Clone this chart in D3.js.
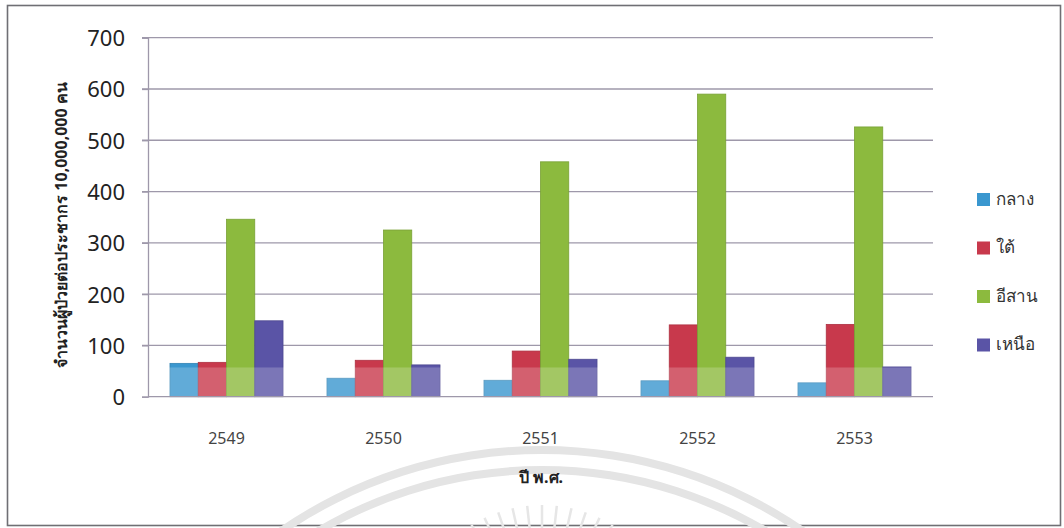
<!DOCTYPE html>
<html lang="th">
<head>
<meta charset="utf-8">
<script src="https://cdn.jsdelivr.net/npm/d3@7"></script>
<style>
  html, body { margin: 0; padding: 0; background: #fff; }
  svg { display: block; }
  text { font-family: "Noto Sans", "DejaVu Sans", sans-serif; }
</style>
</head>
<body>
<svg id="chart" width="1064" height="528"></svg>
<script>
// Patients per 10,000,000 population, by region and Buddhist-era year
const years = ["2549", "2550", "2551", "2552", "2553"];
const regions = ["กลาง", "ใต้", "อีสาน", "เหนือ"];
const central   = [65, 36, 32, 31, 27];
const south     = [67, 71, 89, 140, 141];
const northeast = [346, 325, 458, 590, 526];
const north     = [148, 62, 73, 77, 58];
const yTicks = [0, 100, 200, 300, 400, 500, 600, 700];
const colors = ["#3a97cf", "#c8394c", "#8cba3e", "#5a54a6"];

const seriesValues = [central, south, northeast, north];
const rows = years.map((y, i) => ({ year: y, values: seriesValues.map(s => s[i]) }));

const svg = d3.select("#chart");
const plot = { left: 148, right: 933, top: 37.7, bottom: 396.7 };

// outer frame
svg.append("rect")
  .attr("x", 7.5).attr("y", 5.5)
  .attr("width", 1053).attr("height", 520)
  .attr("fill", "#fff")
  .attr("stroke", "#6f6f74").attr("stroke-width", 1.6);

// faint seal arcs and rays along the lower edge
const seal = svg.append("g");
[460, 440].forEach(r => {
  seal.append("path")
    .attr("d", d3.arc()({ innerRadius: r - 4, outerRadius: r + 4,
      startAngle: -0.62, endAngle: 0.62 }))
    .attr("transform", "translate(542,910)")
    .attr("fill", "#e4e4e4");
});
d3.range(-5, 6).forEach(k => {
  const a = k * 0.11;
  seal.append("line")
    .attr("x1", 542 + Math.sin(a) * 110).attr("y1", 640 - Math.cos(a) * 110)
    .attr("x2", 542 + Math.sin(a) * 135).attr("y2", 640 - Math.cos(a) * 135)
    .attr("stroke", "#e6e6e6").attr("stroke-width", 2.5);
});

const x0 = d3.scaleBand().domain(years)
  .range([plot.left, plot.right]).paddingInner(0.28).paddingOuter(0.14);
const x1 = d3.scaleBand().domain(d3.range(regions.length))
  .range([0, x0.bandwidth()]);
const y = d3.scaleLinear().domain([0, 700]).range([plot.bottom, plot.top]);

// horizontal gridlines
svg.append("g")
  .selectAll("line").data(yTicks.filter(t => t > 0)).join("line")
  .attr("x1", plot.left - 6).attr("x2", plot.right)
  .attr("y1", d => y(d)).attr("y2", d => y(d))
  .attr("stroke", "#9e98aa").attr("stroke-width", 1.3);

// y axis
const yAxis = svg.append("g")
  .attr("transform", `translate(${plot.left},0)`)
  .call(d3.axisLeft(y).tickValues(yTicks).tickSize(6).tickPadding(17));
yAxis.select(".domain").attr("stroke", "#9e98aa").attr("stroke-width", 1.3);
yAxis.selectAll(".tick line").attr("stroke", "#9e98aa").attr("stroke-width", 1.3);
yAxis.selectAll(".tick text")
  .attr("font-family", "Lato, 'Open Sans', sans-serif")
  .attr("font-size", 22).attr("fill", "#222").attr("dy", "0.36em");

// bars
const groups = svg.append("g").selectAll("g").data(rows).join("g")
  .attr("transform", d => `translate(${x0(d.year)},0)`);
groups.selectAll("rect").data(d => d.values.map((v, i) => ({ v, i }))).join("rect")
  .attr("x", d => x1(d.i))
  .attr("width", x1.bandwidth())
  .attr("y", d => y(d.v))
  .attr("height", d => y(0) - y(d.v))
  .attr("fill", d => colors[d.i])
  .attr("stroke", d => d3.color(colors[d.i]).darker(0.4))
  .attr("stroke-width", 0.8);

// pale band across the bar feet
svg.append("rect")
  .attr("x", plot.left + 1).attr("width", plot.right - plot.left - 1)
  .attr("y", y(57)).attr("height", y(0) - y(57))
  .attr("fill", "#fff").attr("opacity", 0.2);

// x baseline
svg.append("line")
  .attr("x1", plot.left).attr("x2", plot.right)
  .attr("y1", y(0)).attr("y2", y(0))
  .attr("stroke", "#9e98aa").attr("stroke-width", 1.3);

// category labels
svg.append("g").selectAll("text").data(years).join("text")
  .attr("x", d => x0(d) + x0.bandwidth() / 2)
  .attr("y", 444)
  .attr("text-anchor", "middle")
  .attr("font-family", "'Liberation Sans', Arial, sans-serif")
  .attr("font-size", 16).attr("fill", "#444")
  .text(d => d);

// axis titles
svg.append("text")
  .attr("x", 541).attr("y", 483)
  .attr("text-anchor", "middle")
  .attr("font-size", 16).attr("font-weight", "bold").attr("fill", "#222")
  .text("ปี พ.ศ.");

svg.append("text")
  .attr("transform", "translate(67,225) rotate(-90)")
  .attr("text-anchor", "middle")
  .attr("font-size", 16).attr("font-weight", "bold").attr("fill", "#222")
  .text("จำนวนผู้ป่วยต่อประชากร 10,000,000 คน");

// legend
const legend = svg.append("g").attr("transform", "translate(977,199)")
  .selectAll("g").data(regions).join("g")
  .attr("transform", (d, i) => `translate(0,${i * 48.5})`);
legend.append("rect")
  .attr("x", 0).attr("y", -6).attr("width", 13).attr("height", 13)
  .attr("fill", (d, i) => colors[i]);
legend.append("text")
  .attr("x", 19).attr("y", 0).attr("dy", "0.35em")
  .attr("font-size", 17).attr("fill", "#333")
  .text(d => d);
</script>
</body>
</html>
